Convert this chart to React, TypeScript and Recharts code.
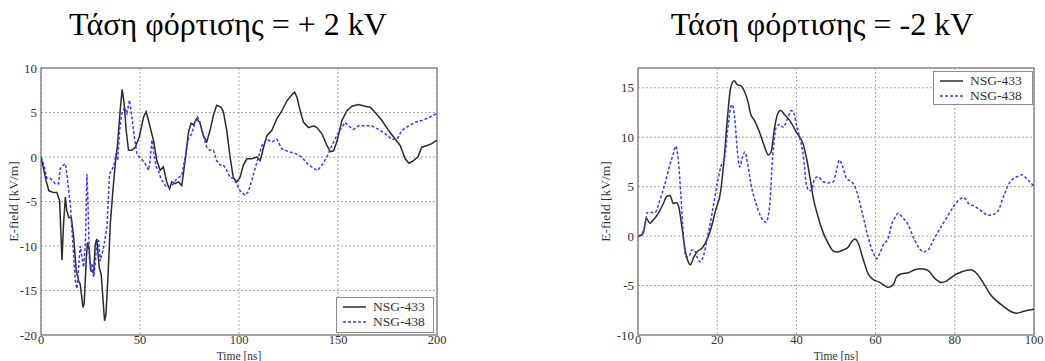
import React from 'react';
import { LineChart, Line, XAxis, YAxis, CartesianGrid, ReferenceArea, Legend } from 'recharts';

// ---- Titles / labels ----
const TITLE_LEFT = 'Τάση φόρτισης = + 2 kV';
const TITLE_RIGHT = 'Τάση φόρτισης = -2 kV';
const Y_LABEL = 'E-field [kV/m]';
const X_LABEL = 'Time [ns]';
const SERIES_NAMES = ['NSG-433', 'NSG-438'];

// ---- Axis ticks ----
const LEFT_X_TICKS = [0, 50, 100, 150, 200];
const LEFT_Y_TICKS = [-20, -15, -10, -5, 0, 5, 10];
const RIGHT_X_TICKS = [0, 20, 40, 60, 80, 100];
const RIGHT_Y_TICKS = [-10, -5, 0, 5, 10, 15];
const LEFT_X_DOMAIN = [0, 200];
const LEFT_Y_DOMAIN = [-20, 10];
const RIGHT_X_DOMAIN = [0, 100];
const RIGHT_Y_DOMAIN = [-10, 17];

// ---- Data: [time ns, E-field kV/m] ----
const posNSG433: [number, number][] = [
  [0, 0], [2.5, -2.6], [4, -3.8], [6.4, -4], [8, -4], [9.4, -4.9], [10.6, -11.6], [11.4, -7.5], [12.3, -4.5],
  [13, -6], [14, -6.8], [15.3, -6.8], [16.5, -9], [17.8, -12.8], [19, -13.9], [19.8, -14.3], [21.2, -16.9],
  [21.8, -16.5], [22.9, -11.3], [23.5, -9.6], [24.4, -10.5], [25.2, -12.8], [26.6, -13], [27.4, -9.8],
  [28.2, -9.2], [29.4, -12.4], [30.4, -13.2], [32.1, -18.4], [32.8, -17.7], [33.8, -13.6], [35, -7.5],
  [36.3, -3.8], [37.5, -0.8], [38.7, 1.5], [40, 5.3], [41, 7.6], [42, 6], [43, 3], [44.2, 0.75], [45.9, 0.75],
  [47.6, 1.1], [49.7, 2.3], [51.8, 4.5], [53.1, 5.1], [54.3, 4.1], [55.5, 3], [56.8, 1.9], [58.5, -0.4],
  [60.2, -1.5], [61.8, -1.1], [63.5, -2.8], [64.9, -3.6], [66, -2.8], [67.7, -3], [69.4, -2.8], [71.1, -3.2],
  [72.8, -0.4], [74.5, 2.8], [75.8, 3.8], [77, 3.6], [78.7, 4.3], [80.3, 3.8], [82, 2.4], [83.7, 1.7],
  [85.4, 3], [87.1, 4.7], [88.7, 5.8], [90.8, 5.6], [92.1, 5.1], [93.8, 3], [95.5, 0], [97.1, -2.3],
  [98.8, -2.8], [100.5, -2.3], [102.2, -0.9], [104, -0.2], [106.5, -0.2], [109, 0], [110.7, -0.4],
  [112.4, 1.1], [114.1, 2.4], [116.6, 3], [119.1, 4.3], [121.7, 5.2], [124.2, 6.3], [126.7, 7], [128.1, 7.3],
  [129.3, 6.7], [130.9, 5.2], [132.6, 3.9], [135.1, 3.3], [137.7, 3.5], [139.3, 3.3], [141.9, 2.6],
  [144.4, 1.3], [146.1, 0.6], [147.8, 0.7], [149.4, 1.7], [152, 4.1], [154.5, 5.2], [157, 5.7], [160.4, 5.9],
  [163.7, 5.7], [166.3, 5.6], [168.8, 5], [172.2, 4.1], [175.5, 3], [178.9, 2], [181.4, 1.3], [183.9, -0.2],
  [185.9, -0.7], [188.1, -0.4], [190.3, 0], [192.3, 1.1], [194.9, 1.3], [197.4, 1.5], [200, 1.9],
];

const posNSG438: [number, number][] = [
  [0, 0], [1.3, -0.75], [3, -2.4], [4.7, -2.4], [7.2, -3], [8.9, -3], [9.7, -1.3], [11.4, -0.9], [12.3, -0.75],
  [13.1, -2], [14.8, -5.3], [16.1, -9.8], [17.3, -13.9], [18.2, -14.8], [19, -12.4], [19.8, -10], [20.7, -11.3],
  [21.5, -12.4], [22.4, -9.8], [23.2, -1.9], [23.7, -4.9], [24.4, -11.3], [24.9, -12.4], [25.7, -12],
  [26.6, -13.5], [27.4, -12], [28.2, -9.4], [29.1, -9.4], [29.9, -11.7], [30.8, -10.9], [31.6, -10.2],
  [33.3, -7.9], [34.6, -1.9], [35.8, -1.5], [37, -0.75], [38, 0.4], [38.7, -0.4], [39.7, 3], [40.8, 4.9],
  [42.2, 5.6], [43.4, 4.9], [44.7, 6.4], [45.9, 4.5], [47.1, 2.3], [48.4, 0.4], [49.7, 0], [51.4, -0.4],
  [52.6, -0.75], [54.3, -1.5], [55.1, -0.4], [56, 1.9], [56.8, 0.75], [58.2, -1.1], [59.3, -1.5], [60.5, -2.4],
  [62.2, -3], [63.5, -3.4], [65.2, -3.4], [66.9, -3], [68.6, -2.4], [71.1, -2.1], [72.8, 0], [74.5, 2.1],
  [76.1, 2.6], [77.8, 3.9], [79, 4.5], [80.3, 3.9], [82, 2.4], [83.7, 1.1], [85.4, 0.75], [87.1, 0.75],
  [88.7, -0.4], [90.4, -0.9], [92.1, -0.9], [93.8, -1.5], [95.5, -2.3], [97.1, -2.4], [98.8, -3], [100.5, -3.8],
  [103, -4.3], [104.7, -3.9], [106.5, -2.6], [109, -0.6], [111.6, 1.3], [114.1, 2], [116.6, 1.7], [119.1, 2],
  [121.7, 0.9], [125, 0.6], [128.4, 0.4], [131.7, 0], [134.3, -0.7], [137.7, -1.3], [139.8, -1.5],
  [141.9, -0.9], [144.4, 0], [146.9, 1.3], [150.3, 2.8], [153.6, 3.9], [155.3, 3.5], [157.8, 3.1], [160.4, 3.5],
  [163.7, 3.5], [167, 3.5], [170.5, 3.1], [173.9, 2.6], [177.2, 2], [179.8, 2], [182.3, 3], [185.7, 3.5],
  [189, 3.9], [192.3, 4.1], [195.7, 4.4], [200, 4.9],
];

const negNSG433: [number, number][] = [
  [0, 0], [0.85, 0.1], [1.4, 0.4], [2.1, 1.8], [3, 1.3], [3.8, 1.6], [5.1, 2.3], [6.4, 3.3], [7.2, 4], [8.1, 4.1],
  [8.9, 3.3], [9.6, 3.4], [10.2, 3.1], [11.1, 0.9], [11.9, -1.4], [12.8, -2.7], [13.2, -2.9], [14, -2.2],
  [14.9, -1.6], [16.2, -1.2], [17, -0.7], [18.3, 0.6], [19.6, 2.6], [20.9, 4.6], [21.7, 7.6], [22.6, 12],
  [23.4, 15], [24.3, 15.7], [25.1, 15.3], [26, 15.2], [26.8, 14.7], [27.7, 13.7], [28.5, 12.3], [29.4, 11.7],
  [30.6, 10.6], [31.9, 9.1], [32.9, 8.2], [33.6, 8.5], [34.5, 11], [35.3, 12.4], [36, 12.7], [37, 12.3],
  [38.3, 11.7], [40, 10.5], [41.7, 9.3], [42.5, 8], [43.4, 6], [44.2, 4], [45.5, 1.9], [46.8, 0.3], [48, -0.7],
  [49.3, -1.5], [50.5, -1.6], [51.8, -1.4], [53.1, -1.1], [53.9, -0.6], [54.8, -0.3], [55.6, -0.7],
  [56.9, -2.4], [58.1, -3.8], [59.4, -4.4], [60.7, -4.6], [61.9, -4.9], [63.2, -5.2], [64.5, -4.9],
  [65.3, -4.1], [66.6, -3.8], [68.3, -3.7], [69.9, -3.4], [71.6, -3.3], [73.3, -3.5], [75, -4.3], [76.7, -4.7],
  [78.4, -4.4], [80.1, -3.9], [81.8, -3.6], [83.9, -3.4], [85.6, -3.8], [87.3, -4.8], [89, -5.9], [90.7, -6.6],
  [92.3, -7.1], [94, -7.6], [95.7, -7.8], [97.4, -7.6], [100, -7.4],
];

const negNSG438: [number, number][] = [
  [0, 0], [1.1, 0.3], [2, 1.6], [2.3, 2.4], [3.4, 2.4], [4.3, 2.4], [5.5, 3.6], [6.8, 5.3], [8.1, 7.3], [8.9, 8.3],
  [9.5, 9.1], [10.2, 7.6], [10.8, 4.3], [11.5, -0.1], [12.1, -2.1], [12.8, -2.1], [13.6, -1.4], [14.2, -1.4],
  [14.9, -2.1], [15.7, -2.6], [16.6, -1.9], [17.4, -0.4], [18.7, 2.3], [20, 5.3], [20.9, 7], [21.9, 8],
  [22.6, 10.6], [23.4, 13], [23.8, 13.3], [24.4, 12], [25.1, 8.6], [25.7, 7], [26.4, 8], [27, 8.5], [27.7, 7.3],
  [28.5, 5.3], [29.8, 3.3], [31.1, 1.9], [32.3, 1.4], [33.2, 2.9], [34, 8], [34.9, 11], [35.8, 11.3],
  [36.6, 11], [37.9, 12], [38.7, 12.7], [39.3, 12.5], [40, 11.3], [40.8, 10], [41.7, 8.3], [42.5, 5.3],
  [43.2, 4.6], [43.8, 4.6], [44.6, 5.8], [45.5, 6], [46.8, 5.5], [48, 5.4], [49.3, 5.5], [50.1, 6.6],
  [50.9, 7.7], [51.6, 7.1], [52.7, 5.8], [53.9, 5.5], [54.8, 5], [55.6, 4], [56.9, 1.9], [58.1, -0.1],
  [59.4, -1.7], [60.3, -2.3], [61.1, -1.7], [61.9, -0.9], [63.2, -0.2], [64, 1.1], [64.9, 1.9], [65.7, 2.3],
  [67, 1.8], [68.3, 1.1], [69.5, -0.1], [70.8, -1.1], [72.1, -1.6], [73.3, -1.4], [74.6, -0.4], [76.3, 0.8],
  [78, 1.9], [79.7, 3], [80.9, 3.6], [82.2, 3.9], [83.5, 3.3], [85.1, 3], [86.8, 2.5], [88.5, 2.1], [89.8, 2.2],
  [91, 2.6], [92.3, 4], [94, 5.5], [95.7, 6], [96.9, 6.2], [98.2, 5.8], [100, 5],
];

const toRows = (pairs: [number, number][]) => pairs.map(([t, v]) => ({ t, v }));

const FONT = '"Liberation Serif", "Times New Roman", serif';
const BLACK = '#2b2b2b';
const BLUE = '#3a3aff';
const GRID = '#a8a8a8';
const BORDER = '#8a8a8a';
const TEXT = '#333';

const LegendBox = () => (
  <div
    style={{
      boxSizing: 'border-box',
      width: '100%',
      height: '100%',
      border: `1.5px solid ${BORDER}`,
      background: '#fff',
      fontFamily: FONT,
      fontSize: 13.5,
      color: TEXT,
      padding: '1px 0 0 6px',
      lineHeight: '15px',
    }}
  >
    {SERIES_NAMES.map((name, i) => (
      <div key={name} style={{ display: 'flex', alignItems: 'center', height: 15 }}>
        <svg width={23} height={6} style={{ marginRight: 7 }}>
          <line
            x1={0}
            y1={3}
            x2={23}
            y2={3}
            stroke={i === 0 ? BLACK : BLUE}
            strokeWidth={1.5}
            strokeDasharray={i === 0 ? undefined : '3 2'}
          />
        </svg>
        <span>{name}</span>
      </div>
    ))}
  </div>
);

type PanelProps = {
  left: number;
  width: number;
  marginLeft: number;
  marginRight: number;
  yLabelOffset: number;
  xDomain: number[];
  yDomain: number[];
  xTicks: number[];
  yTicks: number[];
  s1: [number, number][];
  s2: [number, number][];
  curve: 'linear' | 'monotone';
  legendPos: { left: number; top: number; width: number; height: number };
};

const xTickStyle = { fontFamily: FONT, fontSize: 12.5, fill: TEXT };
const yTickStyle = { fontFamily: FONT, fontSize: 13, fill: TEXT };

const Panel = (p: PanelProps) => (
  <div style={{ position: 'absolute', left: p.left, top: 0 }}>
    <LineChart
      width={p.width}
      height={361}
      margin={{ top: 68, right: p.marginRight, bottom: 0, left: p.marginLeft }}
    >
      <CartesianGrid stroke={GRID} strokeDasharray="2 2" />
      <XAxis
        type="number"
        dataKey="t"
        domain={p.xDomain}
        ticks={p.xTicks}
        allowDataOverflow
        height={26}
        tickLine={false}
        axisLine={false}
        tickSize={0}
        tickMargin={0}
        tick={xTickStyle}
        label={{ value: X_LABEL, position: 'insideBottom', offset: 1, style: { fontFamily: FONT, fontSize: 11.5, fill: TEXT } }}
      />
      <YAxis
        type="number"
        dataKey="v"
        domain={p.yDomain}
        ticks={p.yTicks}
        allowDataOverflow
        width={35}
        tickLine={false}
        axisLine={false}
        tickSize={2}
        tickMargin={2}
        tick={yTickStyle}
        label={{
          value: Y_LABEL,
          angle: -90,
          position: 'insideLeft',
          offset: p.yLabelOffset,
          style: { textAnchor: 'middle', fontFamily: FONT, fontSize: 13.5, fill: TEXT },
        }}
      />
      <Line
        data={toRows(p.s1)}
        dataKey="v"
        name={SERIES_NAMES[0]}
        type={p.curve}
        stroke={BLACK}
        strokeWidth={1.5}
        dot={false}
        activeDot={false}
        isAnimationActive={false}
      />
      <Line
        data={toRows(p.s2)}
        dataKey="v"
        name={SERIES_NAMES[1]}
        type={p.curve}
        stroke={BLUE}
        strokeWidth={1.5}
        strokeDasharray="3 2"
        dot={false}
        activeDot={false}
        isAnimationActive={false}
      />
      <ReferenceArea
        x1={p.xDomain[0]}
        x2={p.xDomain[1]}
        y1={p.yDomain[0]}
        y2={p.yDomain[1]}
        fill="none"
        fillOpacity={0}
        stroke={BORDER}
        strokeWidth={1.5}
      />
      <Legend
        layout="vertical"
        align="center"
        verticalAlign="middle"
        content={() => <LegendBox />}
        wrapperStyle={{ position: 'absolute', ...p.legendPos }}
      />
    </LineChart>
  </div>
);

export default function App() {
  return (
    <div style={{ position: 'absolute', left: 0, top: 0, width: 1045, height: 361, background: '#fff', overflow: 'hidden' }}>
      <svg width={1045} height={60} style={{ position: 'absolute', left: 0, top: 0 }}>
        <text x={228} y={35} textAnchor="middle" fontFamily={FONT} fontSize={32} fill="#000">
          {TITLE_LEFT}
        </text>
        <text x={822} y={35} textAnchor="middle" fontFamily={FONT} fontSize={32} fill="#000">
          {TITLE_RIGHT}
        </text>
      </svg>
      <Panel
        left={0}
        width={460}
        marginLeft={6}
        marginRight={23}
        yLabelOffset={7}
        xDomain={LEFT_X_DOMAIN}
        yDomain={LEFT_Y_DOMAIN}
        xTicks={LEFT_X_TICKS}
        yTicks={LEFT_Y_TICKS}
        s1={posNSG433}
        s2={posNSG438}
        curve="linear"
        legendPos={{ left: 336, top: 297, width: 98, height: 36 }}
      />
      <Panel
        left={520}
        width={525}
        marginLeft={83}
        marginRight={11}
        yLabelOffset={2}
        xDomain={RIGHT_X_DOMAIN}
        yDomain={RIGHT_Y_DOMAIN}
        xTicks={RIGHT_X_TICKS}
        yTicks={RIGHT_Y_TICKS}
        s1={negNSG433}
        s2={negNSG438}
        curve="monotone"
        legendPos={{ left: 413, top: 71, width: 100, height: 34 }}
      />
    </div>
  );
}
